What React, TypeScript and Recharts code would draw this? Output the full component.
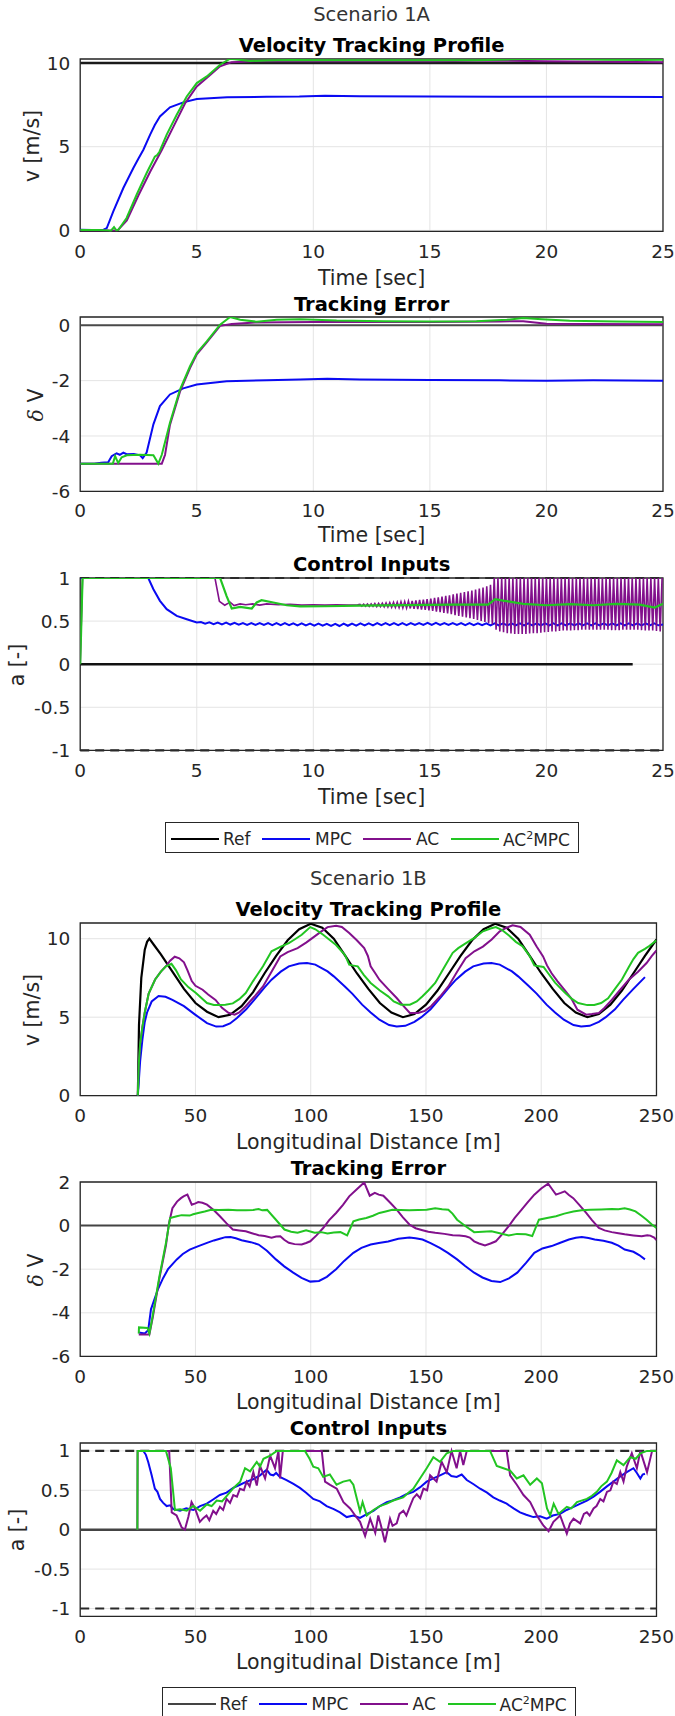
import React from "react";
import {
  LineChart,
  Line,
  XAxis,
  YAxis,
  CartesianGrid,
  ReferenceLine,
  ReferenceArea,
} from "recharts";

type Pt = [number, number];

const FONT = '"DejaVu Sans", sans-serif';
const INK = "#262626";
const BLUE = "#0a0af2";
const PURPLE = "#82108c";
const GREEN = "#22c522";

// ---------- Scenario 1A (time axis) ----------
const timeTicks = [0, 5, 10, 15, 20, 25];

const refVelA: Pt[] = [[0, 10], [25, 10]];
const mpcVelA: Pt[] = [
  [0, 0.04], [0.5, 0.03], [1.0, 0.04], [1.14, 0.14], [1.42, 1.13], [1.85, 2.53], [2.28, 3.73],
  [2.5, 4.3], [2.71, 4.82], [3.0, 5.72], [3.2, 6.3], [3.42, 6.81], [3.85, 7.35], [4.42, 7.65],
  [5.0, 7.85], [6.3, 7.95], [8, 7.98], [9.4, 8.0], [10.5, 8.05], [12, 8.02], [15, 8.0],
  [18, 7.99], [20, 7.98], [22, 7.99], [25, 7.97],
];
const acVelA: Pt[] = [
  [0, 0], [1.6, 0], [2.0, 0.6], [2.5, 2.1], [3.0, 3.5], [3.5, 4.8], [4.0, 6.2], [4.5, 7.6],
  [5.0, 8.6], [5.5, 9.2], [6.0, 9.8], [6.5, 10.05], [7.5, 10.1], [10, 10.1], [15, 10.1],
  [18, 10.15], [20, 10.1], [25, 10.05],
];
const acmpcVelA: Pt[] = [
  [0, 0.02], [0.8, 0.03], [1.2, 0.0], [1.3, -0.05], [1.45, 0.2], [1.55, 0.0], [1.64, 0.04],
  [1.99, 0.74], [2.42, 2.13], [2.85, 3.43], [3.2, 4.4], [3.3, 4.5], [3.4, 4.7], [3.71, 5.72],
  [4.14, 6.91], [4.57, 8.0], [5.0, 8.8], [5.43, 9.2], [6.0, 9.9], [6.43, 10.26], [6.8, 10.2],
  [7.3, 10.12], [8, 10.15], [9, 10.18], [11, 10.17], [13, 10.16], [15, 10.17], [17, 10.16],
  [18.5, 10.22], [19.5, 10.26], [21, 10.24], [22.5, 10.2], [24, 10.18], [25, 10.2],
];

const refErrA: Pt[] = [[0, 0], [25, 0]];
const mpcErrA: Pt[] = [
  [0, -5], [0.6, -5], [0.9, -4.97], [1.2, -4.95], [1.35, -4.73], [1.56, -4.63], [1.7, -4.68],
  [1.85, -4.6], [1.99, -4.66], [2.3, -4.65], [2.57, -4.7], [2.68, -4.8], [2.85, -4.6],
  [3.14, -3.58], [3.42, -2.92], [3.85, -2.5], [4.42, -2.28], [5.0, -2.14], [6.28, -2.02],
  [8, -1.99], [9.43, -1.96], [10.6, -1.93], [12, -1.96], [15, -1.98], [18, -1.99], [20, -2.0],
  [22, -1.99], [25, -2.0],
];
const acErrA: Pt[] = [
  [0, -5], [3.5, -5], [3.64, -4.68], [3.85, -3.6], [4.28, -2.4], [4.71, -1.55], [5.0, -1.05],
  [5.43, -0.62], [6.0, -0.02], [6.5, 0.05], [7.5, 0.1], [10, 0.12], [15, 0.12], [18, 0.14],
  [19, 0.15], [20, 0.06], [22, 0.05], [25, 0.04],
];
const acmpcErrA: Pt[] = [
  [0, -5], [1.4, -5], [1.5, -4.73], [1.63, -4.98], [1.78, -4.77], [2.0, -4.7], [2.57, -4.68],
  [3.14, -4.7], [3.35, -5.0], [3.5, -4.68], [3.85, -3.52], [4.28, -2.32], [4.71, -1.48],
  [5.0, -1.0], [5.43, -0.58], [6.0, 0.02], [6.43, 0.3], [6.86, 0.2], [7.57, 0.13], [8.43, 0.2],
  [9.43, 0.22], [11, 0.17], [13, 0.15], [15, 0.14], [17, 0.15], [18.3, 0.2], [19, 0.26],
  [19.8, 0.22], [21, 0.16], [23, 0.14], [25, 0.12],
];

const refCtrlA: Pt[] = [[0, 0], [23.7, 0]];
const mpcCtrlA: Pt[] = [
  [0, 1], [2.92, 1], [3.14, 0.87], [3.42, 0.735], [3.71, 0.638], [4.14, 0.56], [4.57, 0.522],
  [5.0, 0.483],
];
// MPC ripple after 5 s: [high, low] of each 0.36 s wiggle
const mpcRippleA: Pt[] = [
  [0.49, 0.47], [0.485, 0.465], [0.483, 0.462], [0.482, 0.46], [0.48, 0.458], [0.478, 0.456],
  [0.478, 0.455], [0.477, 0.455], [0.477, 0.454], [0.476, 0.453], [0.476, 0.452], [0.475, 0.451],
  [0.474, 0.45], [0.472, 0.448], [0.47, 0.446], [0.468, 0.444], [0.468, 0.443], [0.47, 0.446],
  [0.472, 0.448], [0.474, 0.45], [0.475, 0.451], [0.476, 0.452], [0.476, 0.452], [0.477, 0.453],
  [0.477, 0.454], [0.478, 0.455], [0.478, 0.456], [0.479, 0.456], [0.479, 0.456], [0.478, 0.455],
  [0.477, 0.455], [0.477, 0.454], [0.476, 0.453], [0.475, 0.452], [0.474, 0.451], [0.474, 0.45],
  [0.473, 0.449], [0.473, 0.449], [0.474, 0.45], [0.474, 0.45], [0.475, 0.451], [0.475, 0.451],
  [0.474, 0.45], [0.474, 0.45], [0.473, 0.449], [0.473, 0.449], [0.474, 0.45], [0.475, 0.451],
  [0.475, 0.451], [0.474, 0.45], [0.474, 0.45], [0.473, 0.449], [0.474, 0.45], [0.475, 0.451],
  [0.475, 0.451],
];
const acCtrlA: Pt[] = [
  [0, 0], [0.1, 1], [5.78, 1], [5.97, 0.73], [6.2, 0.684], [6.43, 0.72], [6.6, 0.68],
  [6.86, 0.7], [7.1, 0.69], [7.4, 0.7], [7.7, 0.685], [8.0, 0.7], [8.5, 0.69], [9, 0.695],
  [9.5, 0.685], [10, 0.69], [10.5, 0.685], [11, 0.69], [11.5, 0.685], [11.9, 0.69],
];
// AC chattering from 12 s: [peak, trough] of each 0.16 s cycle
const acChatterA: Pt[] = [
  [0.695, 0.675], [0.697, 0.673], [0.699, 0.671], [0.7, 0.67], [0.703, 0.668], [0.705, 0.667],
  [0.708, 0.665], [0.711, 0.663], [0.714, 0.66], [0.717, 0.658], [0.72, 0.656], [0.724, 0.653],
  [0.727, 0.651], [0.731, 0.647], [0.735, 0.643], [0.74, 0.638], [0.745, 0.634], [0.75, 0.629],
  [0.756, 0.623], [0.762, 0.618], [0.769, 0.611], [0.776, 0.603], [0.784, 0.596], [0.792, 0.588],
  [0.8, 0.58], [0.81, 0.57], [0.819, 0.561], [0.828, 0.552], [0.837, 0.543], [0.846, 0.533],
  [0.855, 0.524], [0.866, 0.513], [0.877, 0.502], [0.89, 0.49], [0.905, 0.475], [0.92, 0.46],
  [1, 0.4], [1, 0.38], [1, 0.37], [1, 0.36], [1, 0.355], [1, 0.35], [1, 0.35], [1, 0.35],
  [1, 0.35], [1, 0.355], [1, 0.36], [1, 0.36], [1, 0.365], [1, 0.37], [1, 0.375], [1, 0.38],
  [1, 0.38], [1, 0.385], [1, 0.39], [1, 0.39], [1, 0.39], [1, 0.395], [1, 0.395], [1, 0.4],
  [1, 0.4], [1, 0.4], [1, 0.4], [1, 0.4], [1, 0.4], [1, 0.4], [1, 0.4], [1, 0.395], [1, 0.395],
  [1, 0.395], [1, 0.4], [1, 0.4], [1, 0.4], [1, 0.4], [1, 0.4], [1, 0.395], [1, 0.39], [1, 0.39],
  [1, 0.39], [1, 0.385], [1, 0.38],
];
const acmpcCtrlA: Pt[] = [
  [0, 0], [0.1, 1], [6.0, 1], [6.28, 0.79], [6.5, 0.646], [6.86, 0.665], [7.36, 0.646],
  [7.57, 0.716], [7.78, 0.742], [8.28, 0.716], [8.86, 0.684], [9.43, 0.67], [10.5, 0.672],
  [12, 0.68], [14, 0.685], [16, 0.69], [17.5, 0.69], [17.8, 0.754], [18.2, 0.735], [19, 0.7],
  [20, 0.684], [21, 0.696], [22, 0.684], [23, 0.7], [24, 0.69], [24.65, 0.657], [25, 0.7],
];

// ---------- Scenario 1B (distance axis) ----------
const distTicks = [0, 50, 100, 150, 200, 250];

const refVelB: Pt[] = [
  [25, 0], [25.5, 4.5], [26.5, 7.5], [28, 9.3], [29, 9.8], [30, 10.0], [32, 9.6], [35, 9.0],
  [40, 7.9], [45, 6.8], [50, 5.9], [55, 5.35], [60, 5.0], [65, 5.15], [70, 5.7], [75, 6.6],
  [80, 7.8], [85, 8.9], [90, 9.9], [95, 10.6], [100, 10.95], [105, 10.7], [110, 10.0],
  [115, 8.9], [120, 7.8], [125, 6.8], [130, 5.9], [135, 5.3], [140, 5.0], [145, 5.2], [150, 5.8],
  [155, 6.7], [160, 7.8], [165, 8.9], [170, 9.9], [175, 10.6], [180, 10.95], [185, 10.7],
  [190, 10.0], [195, 8.9], [200, 7.8], [205, 6.8], [210, 5.9], [215, 5.3], [220, 5.0],
  [225, 5.2], [230, 5.8], [235, 6.7], [240, 7.8], [245, 8.9], [250, 9.95],
];
const mpcVelB: Pt[] = [
  [25, 0], [26, 2.2], [27, 3.6], [28, 4.7], [29, 5.3], [31, 6.0], [34, 6.35], [37, 6.3],
  [40, 6.1], [45, 5.7], [50, 5.15], [55, 4.62], [59, 4.4], [62, 4.42], [65, 4.6], [68, 4.95],
  [72, 5.5], [75.5, 6.1], [80, 6.9], [83, 7.39], [87, 7.9], [90.5, 8.24], [95, 8.42],
  [98.4, 8.45], [102, 8.35], [107.3, 7.92], [110, 7.6], [114.8, 6.96], [118, 6.5], [122.3, 5.8],
  [126, 5.3], [129.8, 4.84], [134, 4.5], [137.3, 4.41], [141, 4.45], [145, 4.7], [148, 5.0],
  [152, 5.5], [155.5, 6.1], [160, 6.9], [163, 7.39], [167, 7.9], [170.5, 8.24], [175, 8.42],
  [178.4, 8.45], [182, 8.35], [187.3, 7.92], [190, 7.6], [194.8, 6.96], [198, 6.5], [202.3, 5.8],
  [206, 5.3], [209.8, 4.84], [214, 4.5], [217.3, 4.41], [221, 4.45], [225, 4.7], [228, 5.0],
  [232, 5.5], [235.5, 6.1], [240, 6.8], [245, 7.55],
];
const acVelB: Pt[] = [
  [25, 0], [25.4, 2.0], [26, 3.3], [27, 4.4], [28, 5.3], [29.7, 6.5], [32.5, 7.4], [35, 7.9],
  [37.5, 8.3], [39, 8.6], [41, 8.85], [43, 8.75], [45, 8.5], [46.5, 8.0], [48.4, 7.3], [50, 7.0],
  [53.1, 6.75], [55.5, 6.45], [58.7, 6.1], [61.5, 5.6], [64.3, 5.28], [67, 5.16], [69, 5.3],
  [71.8, 5.7], [75.5, 6.3], [79.3, 6.96], [83, 7.9], [86.8, 8.87], [90, 9.15], [94.3, 9.4],
  [98, 9.75], [101.7, 10.15], [104.5, 10.45], [107.3, 10.74], [111, 10.83], [113.5, 10.75],
  [116.7, 10.36], [120, 9.9], [123.2, 9.4], [124.8, 8.9], [126, 8.24], [128, 7.8], [129.8, 7.39],
  [133.5, 6.8], [137.3, 6.22], [140, 5.75], [143, 5.27], [146.6, 5.27], [149.5, 5.4],
  [152.2, 5.7], [156, 6.3], [159.7, 6.96], [163.5, 7.9], [167.2, 8.76], [171, 9.2], [174.7, 9.5],
  [178.5, 9.95], [182, 10.47], [185, 10.7], [187.6, 10.85], [191, 10.75], [195, 10.25],
  [198, 9.5], [200.8, 8.87], [202.5, 8.3], [204.5, 7.8], [207, 7.3], [210, 6.75], [213, 6.2],
  [215.7, 5.48], [219.5, 5.16], [222, 5.2], [225, 5.27], [227.5, 5.6], [230.6, 6.1], [234, 6.7],
  [238, 7.39], [242, 7.9], [245.7, 8.45], [248, 8.9], [250, 9.25],
];
const acmpcVelB: Pt[] = [
  [25, 0], [25.4, 2.0], [26, 3.3], [27, 4.4], [28, 5.3], [29.7, 6.5], [32.5, 7.4], [35, 7.9],
  [37.2, 8.24], [39.6, 8.4], [41.5, 8.0], [43.7, 7.4], [47, 6.9], [50.2, 6.54], [55, 5.9],
  [58, 5.78], [60.6, 5.77], [63, 5.8], [66.2, 5.88], [69, 6.15], [71.8, 6.54], [75, 7.3],
  [79.3, 8.24], [83, 9.2], [87, 9.5], [90.5, 9.72], [93, 9.95], [96.1, 10.25], [99.8, 10.74],
  [102, 10.6], [105.4, 10.25], [108, 9.95], [111, 9.6], [114.8, 8.98], [116.7, 8.35], [118, 8.3],
  [120.4, 8.24], [123, 7.7], [126, 7.18], [130, 6.7], [133.6, 6.33], [136, 6.0], [139.2, 5.8],
  [143, 5.8], [146, 6.0], [148.5, 6.33], [151, 6.7], [154, 7.18], [158, 8.2], [161.6, 9.1],
  [164, 9.4], [167.2, 9.7], [171, 10.05], [174.7, 10.47], [178, 10.65], [180.3, 10.74],
  [183, 10.55], [186, 10.2], [189, 9.8], [192, 9.5], [195, 8.9], [197, 8.3], [199, 8.25],
  [201, 8.2], [203, 7.8], [206, 7.2], [210, 6.6], [213, 6.2], [216, 5.9], [220, 5.77],
  [223, 5.78], [226, 5.9], [229, 6.2], [232, 6.8], [235, 7.4], [238, 8.2], [240, 8.7],
  [242, 9.1], [245, 9.35], [247, 9.55], [250, 9.9],
];

const refErrB: Pt[] = [[0, 0], [250, 0]];
const mpcErrB: Pt[] = [
  [25.4, -4.9], [28, -4.95], [29.5, -4.8], [30.7, -3.84], [33.7, -2.92], [36, -2.4], [38.1, -2.0],
  [41.9, -1.55], [44.5, -1.3], [47.5, -1.1], [51, -0.95], [55, -0.79], [58, -0.68], [60.6, -0.6],
  [63, -0.53], [65.2, -0.52], [67.5, -0.58], [70, -0.67], [74, -0.76], [77.4, -0.87],
  [81, -1.15], [84.9, -1.55], [88.5, -1.87], [92.4, -2.16], [96, -2.4], [99.8, -2.57],
  [103.6, -2.54], [107, -2.35], [111, -2.0], [114.5, -1.62], [118.5, -1.25], [122, -1.02],
  [126, -0.87], [129.5, -0.8], [133.6, -0.73], [138, -0.6], [142.8, -0.55], [145.5, -0.58],
  [148.5, -0.64], [152, -0.8], [156, -1.02], [159.5, -1.25], [163.5, -1.55], [167, -1.85],
  [170.9, -2.16], [174.5, -2.38], [178.4, -2.54], [182.2, -2.59], [186, -2.42], [189.6, -2.16],
  [193.5, -1.7], [197, -1.25], [200.5, -1.05], [204.5, -0.94], [208, -0.8], [212, -0.64],
  [215, -0.56], [217.6, -0.52], [220.5, -0.57], [223.2, -0.64], [227, -0.7], [230.6, -0.79],
  [233.5, -0.92], [236.2, -1.1], [240, -1.2], [242.5, -1.35], [245, -1.55],
];
const acErrB: Pt[] = [
  [25.4, -5], [30, -5], [31.5, -4.2], [34.4, -2.4], [37.2, -0.9], [38.5, 0.1], [40, 0.8],
  [42, 1.1], [43.7, 1.26], [45, 1.35], [46.5, 1.42], [48.4, 0.96], [50, 1.02], [51.2, 1.08],
  [53, 1.05], [55, 0.96], [58, 0.7], [60.6, 0.43], [63.5, 0.1], [66.2, -0.18], [69, -0.22],
  [71.8, -0.26], [74.5, -0.35], [77.4, -0.44], [80, -0.48], [83, -0.56], [85, -0.5],
  [86.8, -0.49], [88.5, -0.65], [90.5, -0.79], [93, -0.85], [96.1, -0.87], [98, -0.8],
  [99.8, -0.72], [102.5, -0.45], [105.4, -0.11], [108, 0.25], [111, 0.58], [114, 0.95],
  [116.7, 1.34], [120, 1.67], [123.2, 1.98], [125.6, 1.37], [127.8, 1.5], [129.5, 1.42],
  [131.5, 1.37], [134.5, 1.05], [137.3, 0.73], [140, 0.38], [142.8, 0.05], [145.5, -0.12],
  [148.5, -0.21], [151, -0.28], [154, -0.33], [158, -0.38], [161.6, -0.44], [164.5, -0.45],
  [167.2, -0.49], [169, -0.55], [170.9, -0.72], [173, -0.82], [175.6, -0.91], [178, -0.82],
  [180.3, -0.72], [183, -0.4], [185.9, -0.03], [188.5, 0.35], [191.5, 0.73], [194, 1.05],
  [197, 1.42], [200, 1.7], [203, 1.92], [204.5, 1.7], [206.4, 1.42], [208.5, 1.5], [210.2, 1.57],
  [212, 1.4], [213.9, 1.26], [216.5, 0.95], [219.5, 0.58], [222, 0.25], [225, -0.11],
  [227.5, -0.22], [230.6, -0.3], [233.5, -0.35], [236.2, -0.4], [240, -0.45], [243.6, -0.49],
  [246, -0.44], [247.3, -0.46], [249, -0.55], [250, -0.67],
];
const acmpcErrB: Pt[] = [
  [25.4, -4.95], [25.5, -4.67], [29.2, -4.7], [30, -4.95], [31, -4.4], [34.4, -2.31],
  [37.2, -0.79], [39, 0.35], [41.9, 0.43], [44, 0.48], [47.5, 0.46], [49, 0.52], [51.2, 0.58],
  [54, 0.65], [56.8, 0.73], [60, 0.72], [64.3, 0.73], [68, 0.7], [71.8, 0.7], [75, 0.72],
  [77.4, 0.76], [79, 0.7], [81.1, 0.72], [84.9, 0.27], [88.6, -0.18], [91.5, -0.28],
  [94.3, -0.33], [98, -0.21], [101.7, -0.33], [104.5, -0.3], [107.3, -0.36], [110, -0.32],
  [112.9, -0.3], [115.8, -0.45], [118.5, 0.2], [121, 0.28], [124.1, 0.35], [127, 0.45],
  [129.8, 0.58], [132.5, 0.65], [135.4, 0.73], [139, 0.72], [142.8, 0.7], [146.5, 0.72],
  [150.3, 0.73], [154, 0.8], [157, 0.75], [159.7, 0.73], [161.5, 0.55], [163.5, 0.27],
  [167.2, -0.03], [170.9, -0.3], [174.5, -0.28], [178.4, -0.26], [182, -0.35], [185.9, -0.45],
  [189.5, -0.38], [193.3, -0.4], [196.1, -0.48], [199, 0.27], [202.5, 0.35], [206.4, 0.43],
  [210, 0.55], [213.9, 0.65], [217.5, 0.7], [221.3, 0.73], [226, 0.74], [230.6, 0.76],
  [233.5, 0.75], [236.2, 0.79], [238.5, 0.74], [240.9, 0.65], [243.5, 0.45], [245.7, 0.27],
  [248, 0.05], [250, -0.11],
];

const refCtrlB: Pt[] = [[0, 0], [250, 0]];
const mpcCtrlB: Pt[] = [
  [24.8, 1], [27.4, 1], [28.5, 0.95], [29.5, 0.86], [31, 0.69], [32.4, 0.52], [33.5, 0.48],
  [34.6, 0.39], [36, 0.34], [37.5, 0.3], [39, 0.31], [40.4, 0.26], [43.3, 0.24], [46, 0.27],
  [49.1, 0.25], [52, 0.3], [54.9, 0.33], [57.5, 0.38], [60.6, 0.44], [63.5, 0.47], [66.4, 0.53],
  [69.3, 0.57], [72.2, 0.61], [75, 0.64], [78, 0.69], [80.9, 0.76], [82.5, 0.7], [83.8, 0.69],
  [85, 0.72], [86.6, 0.67], [89.5, 0.63], [92.5, 0.58], [95.3, 0.53], [98, 0.47], [101.1, 0.39],
  [104, 0.36], [106.9, 0.3], [110, 0.26], [112.7, 0.22], [115.6, 0.16], [118.5, 0.18],
  [121.4, 0.15], [124.5, 0.2], [127.2, 0.24], [130, 0.3], [133, 0.35], [135.5, 0.37],
  [138.8, 0.41], [141.5, 0.45], [144.5, 0.48], [147.5, 0.54], [150.3, 0.61], [153.2, 0.65],
  [156.1, 0.69], [159, 0.73], [161, 0.68], [163.3, 0.67], [165.5, 0.7], [167.7, 0.63],
  [170.5, 0.58], [173.5, 0.52], [176.5, 0.47], [179.2, 0.41], [182, 0.37], [185, 0.33],
  [188, 0.27], [190.8, 0.22], [193.5, 0.19], [196.6, 0.16], [199.5, 0.17], [202.4, 0.14],
  [205, 0.18], [208.2, 0.2], [211, 0.25], [214, 0.29], [217, 0.33], [219.8, 0.37], [222.7, 0.42],
  [225.5, 0.48], [228.5, 0.55], [231.3, 0.61], [234, 0.67], [237.1, 0.73], [240, 0.78],
  [241.5, 0.72], [243, 0.65], [244, 0.7], [245, 0.71],
];
const acCtrlB: Pt[] = [
  [24.8, 0], [24.9, 1], [38.6, 1], [39.7, 0.22], [41.8, 0.18], [43, 0.1], [44, 0.03], [45.4, 0.0],
  [46.9, 0.16], [48.3, 0.35], [49.8, 0.27], [51.9, 0.1], [53.5, 0.15], [54.8, 0.18], [56, 0.12],
  [57.7, 0.24], [59, 0.2], [60.6, 0.29], [62, 0.25], [63.5, 0.39], [65, 0.34], [66.4, 0.44],
  [68, 0.42], [69.3, 0.52], [71, 0.5], [72.2, 0.61], [73.5, 0.55], [75.1, 0.73], [76.6, 0.56],
  [78, 0.81], [80.2, 0.65], [82.4, 0.94], [84.5, 0.78], [86, 1.0], [86.7, 0.65], [87.9, 1.0],
  [104.8, 1.0], [106.2, 0.61], [108.4, 0.57], [111.3, 0.52], [112.5, 0.45], [114.2, 0.35],
  [117.1, 0.27], [119.3, 0.18], [121.4, 0.1], [123.6, -0.08], [125.8, 0.14], [128, -0.04],
  [129.3, 0.18], [130.5, 0.05], [132.2, -0.16], [134.4, 0.14], [135.5, 0.05], [137.3, 0.08],
  [138.5, 0.2], [140.2, 0.24], [141.5, 0.18], [143.1, 0.3], [144.5, 0.4], [146, 0.45],
  [147.5, 0.4], [148.9, 0.52], [150.5, 0.5], [151.8, 0.69], [154.6, 0.61], [156.8, 0.86],
  [159, 0.73], [161.1, 1.0], [163.3, 0.78], [164.8, 1.0], [166.2, 0.82], [167.7, 1.0],
  [185, 1.0], [186.5, 0.69], [189.4, 0.57], [192.3, 0.44], [195.2, 0.35], [198.1, 0.18],
  [201, 0.05], [203.2, -0.02], [205.3, 0.1], [208.2, 0.18], [211.1, -0.05], [212.5, 0.08],
  [214, 0.14], [216.9, 0.08], [218.5, 0.2], [219.8, 0.22], [221, 0.18], [222.7, 0.27],
  [224, 0.3], [225.6, 0.39], [227, 0.36], [228.5, 0.48], [230, 0.5], [231.3, 0.61],
  [232.8, 0.58], [234.3, 0.73], [235.7, 0.61], [237.1, 0.8], [239.3, 0.97], [241.5, 0.78],
  [243, 1.0], [245.9, 0.73], [248.1, 1.0], [250, 1.0],
];
const acmpcCtrlB: Pt[] = [
  [24.8, 0], [24.9, 1], [37.2, 1], [39.3, 0.78], [41.1, 0.25], [43.3, 0.26], [46.2, 0.24],
  [49.1, 0.3], [52, 0.24], [54.9, 0.32], [57, 0.3], [59.2, 0.37], [61.5, 0.36], [63.6, 0.43],
  [66.5, 0.53], [69.4, 0.61], [71.5, 0.78], [73.7, 0.74], [76.6, 0.86], [78, 0.8], [79.5, 0.9],
  [82.4, 0.94], [85.3, 1.0], [97.5, 1.0], [99.5, 0.9], [101.1, 0.8], [103.3, 0.78],
  [105.4, 0.67], [108.3, 0.7], [111.2, 0.57], [114.1, 0.61], [117, 0.63], [118.5, 0.57],
  [121.4, 0.23], [122.5, 0.35], [124.3, 0.18], [127.2, 0.25], [130, 0.3], [133, 0.33],
  [135.8, 0.37], [140.1, 0.41], [142, 0.46], [144.5, 0.52], [147.4, 0.65], [150.3, 0.78],
  [153.2, 0.92], [156.1, 0.86], [159, 0.97], [161.8, 1.0], [177.8, 1.0], [180.7, 0.81],
  [183.6, 0.78], [186.5, 0.75], [189.4, 0.65], [192.3, 0.69], [195.2, 0.57], [198.1, 0.65],
  [200.3, 0.59], [202.5, 0.27], [203.9, 0.18], [205.4, 0.33], [207.5, 0.2], [211.1, 0.29],
  [213, 0.27], [215.5, 0.35], [219.8, 0.39], [222, 0.43], [224.1, 0.48], [226, 0.55],
  [228.5, 0.61], [230.5, 0.72], [232.8, 0.88], [235.7, 0.82], [238.6, 0.92], [241, 0.9],
  [243, 0.97], [245.9, 1.0], [250, 1.0],
];

// ---------- helpers ----------
const rows = (pts: Pt[]) => pts.map(([x, y]) => ({ x, y }));

// wiggle pairs -> alternating samples on the logging grid
const wiggle = (pairs: Pt[], t0: number, period: number) =>
  pairs.flatMap(([hi, lo], i) => [
    [t0 + i * period, hi] as Pt,
    [t0 + i * period + period / 2, lo] as Pt,
  ]);

const mpcCtrlAFull: Pt[] = [...mpcCtrlA, ...wiggle(mpcRippleA, 5.18, 0.36), [25, 0.462]];
const acCtrlAFull: Pt[] = [...acCtrlA, ...wiggle(acChatterA, 12, 0.16), [24.96, 1]];

type Series = { name: string; pts: Pt[]; color: string; width?: number };

type PanelProps = {
  top: number;
  height: number;
  right: number;
  xDomain: [number, number];
  xTicks: number[];
  yDomain: [number, number];
  yTicks: number[];
  series: Series[];
  bounds?: boolean;
};

const tickStyle = { fill: INK, fontSize: 18.5, fontFamily: FONT };

function Panel({ top, height, right, xDomain, xTicks, yDomain, yTicks, series, bounds }: PanelProps) {
  const mt = 14;
  return (
    <div style={{ position: "absolute", left: 0, top: top - mt }}>
      <LineChart
        width={675}
        height={height + mt + 40}
        margin={{ top: mt, right: 675 - right, bottom: 0, left: 20.2 }}
      >
        <CartesianGrid stroke="#e4e4e4" strokeWidth={1} />
        <XAxis
          dataKey="x"
          type="number"
          domain={xDomain}
          ticks={xTicks}
          interval={0}
          allowDataOverflow
          height={40}
          tickSize={0}
          tickMargin={13}
          tickLine={false}
          axisLine={false}
          tick={tickStyle}
        />
        <YAxis
          type="number"
          domain={yDomain}
          ticks={yTicks}
          interval={0}
          allowDataOverflow
          width={60}
          tickSize={0}
          tickMargin={10}
          tickLine={false}
          axisLine={false}
          tick={tickStyle}
        />
        {bounds && (
          <ReferenceLine y={1} stroke="#2a2a2a" strokeWidth={2.2} strokeDasharray="9 6" />
        )}
        {bounds && (
          <ReferenceLine y={-1} stroke="#2a2a2a" strokeWidth={2.2} strokeDasharray="9 6" />
        )}
        {series.map((s) => (
          <Line
            key={s.name}
            name={s.name}
            data={rows(s.pts)}
            dataKey="y"
            type="linear"
            stroke={s.color}
            strokeWidth={s.width ?? 2}
            dot={false}
            activeDot={false}
            isAnimationActive={false}
          />
        ))}
        <ReferenceArea
          x1={xDomain[0]}
          x2={xDomain[1]}
          y1={yDomain[0]}
          y2={yDomain[1]}
          fill="none"
          fillOpacity={0}
          stroke={INK}
          strokeWidth={1.3}
        />
      </LineChart>
    </div>
  );
}

function Txt({
  x,
  y,
  size,
  bold,
  color = INK,
  rotate,
  children,
}: {
  x: number;
  y: number;
  size: number;
  bold?: boolean;
  color?: string;
  rotate?: boolean;
  children: React.ReactNode;
}) {
  return (
    <div
      style={{
        position: "absolute",
        left: x,
        top: y,
        transform: `translate(-50%, -50%)${rotate ? " rotate(-90deg)" : ""}`,
        fontSize: size,
        fontWeight: bold ? 700 : 400,
        color,
        whiteSpace: "nowrap",
        lineHeight: 1,
        fontFamily: FONT,
      }}
    >
      {children}
    </div>
  );
}

const DeltaV = () => (
  <>
    <span style={{ fontStyle: "italic", fontFamily: '"DejaVu Serif", serif' }}>δ</span> V
  </>
);

const legendItems = [
  { label: "Ref", lx: 5, tx: 57 },
  { label: "MPC", lx: 96, tx: 149 },
  { label: "AC", lx: 197, tx: 250 },
  { label: "AC2MPC", lx: 285, tx: 337 },
];

function LegendBox({ left, top, refColor }: { left: number; top: number; refColor: string }) {
  const colors = [refColor, BLUE, PURPLE, GREEN];
  return (
    <div
      style={{
        position: "absolute",
        left,
        top,
        width: 414,
        height: 31,
        border: `1px solid ${INK}`,
        boxSizing: "border-box",
        background: "#fff",
        fontFamily: FONT,
      }}
    >
      {legendItems.map((it, i) => (
        <React.Fragment key={it.label}>
          <svg
            width={48}
            height={4}
            style={{ position: "absolute", left: it.lx, top: 13.5 }}
          >
            <line x1={0} y1={2} x2={48} y2={2} stroke={colors[i]} strokeWidth={2.2} />
          </svg>
          <div
            style={{
              position: "absolute",
              left: it.tx,
              top: 15.5,
              transform: "translateY(-50%)",
              fontSize: 17,
              color: INK,
              lineHeight: 1,
              whiteSpace: "nowrap",
            }}
          >
            {it.label === "AC2MPC" ? (
              <>
                AC<sup style={{ fontSize: 11, verticalAlign: 7 }}>2</sup>MPC
              </>
            ) : (
              it.label
            )}
          </div>
        </React.Fragment>
      ))}
    </div>
  );
}

export default function App() {
  const RA = 663;
  const RB = 656.5;
  const cA = (80.2 + RA) / 2;
  const cB = (80.2 + RB) / 2;
  return (
    <div
      style={{
        position: "absolute",
        left: 0,
        top: 0,
        width: 675,
        height: 1716,
        overflow: "hidden",
        background: "#fff",
        fontFamily: FONT,
      }}
    >
      <Txt x={cA} y={15} size={19.5} color="#333">Scenario 1A</Txt>

      <Txt x={cA} y={46} size={19.5} bold color="#000">Velocity Tracking Profile</Txt>
      <Panel
        top={59.3}
        height={172.4}
        right={RA}
        xDomain={[0, 25]}
        xTicks={timeTicks}
        yDomain={[-0.06, 10.24]}
        yTicks={[0, 5, 10]}
        series={[
          { name: "Ref", pts: refVelA, color: "#1a1a1a", width: 2.6 },
          { name: "MPC", pts: mpcVelA, color: BLUE },
          { name: "AC", pts: acVelA, color: PURPLE },
          { name: "AC2MPC", pts: acmpcVelA, color: GREEN },
        ]}
      />
      <Txt x={32} y={145.5} size={20.5} rotate>v [m/s]</Txt>
      <Txt x={cA} y={278} size={20.5}>Time [sec]</Txt>

      <Txt x={cA} y={305} size={19.5} bold color="#000">Tracking Error</Txt>
      <Panel
        top={317.4}
        height={174.3}
        right={RA}
        xDomain={[0, 25]}
        xTicks={timeTicks}
        yDomain={[-6, 0.3]}
        yTicks={[-6, -4, -2, 0]}
        series={[
          { name: "Ref", pts: refErrA, color: "#4a4a4a" },
          { name: "MPC", pts: mpcErrA, color: BLUE },
          { name: "AC", pts: acErrA, color: PURPLE },
          { name: "AC2MPC", pts: acmpcErrA, color: GREEN },
        ]}
      />
      <Txt x={36} y={405} size={20.5} rotate><DeltaV /></Txt>
      <Txt x={cA} y={535} size={20.5}>Time [sec]</Txt>

      <Txt x={cA} y={565} size={19.5} bold color="#000">Control Inputs</Txt>
      <Panel
        top={578.3}
        height={172.4}
        right={RA}
        xDomain={[0, 25]}
        xTicks={timeTicks}
        yDomain={[-1, 1]}
        yTicks={[-1, -0.5, 0, 0.5, 1]}
        bounds
        series={[
          { name: "Ref", pts: refCtrlA, color: "#111", width: 2.6 },
          { name: "MPC", pts: mpcCtrlAFull, color: BLUE },
          { name: "AC", pts: acCtrlAFull, color: PURPLE, width: 1.6 },
          { name: "AC2MPC", pts: acmpcCtrlA, color: GREEN, width: 2.2 },
        ]}
      />
      <Txt x={17} y={664.5} size={20.5} rotate>a [-]</Txt>
      <Txt x={cA} y={797} size={20.5}>Time [sec]</Txt>

      <LegendBox left={165} top={822} refColor="#000" />

      <Txt x={cB} y={879} size={19.5} color="#333">Scenario 1B</Txt>

      <Txt x={cB} y={910} size={19.5} bold color="#000">Velocity Tracking Profile</Txt>
      <Panel
        top={923.3}
        height={172.7}
        right={RB}
        xDomain={[0, 250]}
        xTicks={distTicks}
        yDomain={[0, 11]}
        yTicks={[0, 5, 10]}
        series={[
          { name: "Ref", pts: refVelB, color: "#000", width: 2.2 },
          { name: "MPC", pts: mpcVelB, color: BLUE },
          { name: "AC", pts: acVelB, color: PURPLE },
          { name: "AC2MPC", pts: acmpcVelB, color: GREEN },
        ]}
      />
      <Txt x={32} y={1009.6} size={20.5} rotate>v [m/s]</Txt>
      <Txt x={cB} y={1142} size={20.5}>Longitudinal Distance [m]</Txt>

      <Txt x={cB} y={1169} size={19.5} bold color="#000">Tracking Error</Txt>
      <Panel
        top={1182.3}
        height={174.4}
        right={RB}
        xDomain={[0, 250]}
        xTicks={distTicks}
        yDomain={[-6, 2]}
        yTicks={[-6, -4, -2, 0, 2]}
        series={[
          { name: "Ref", pts: refErrB, color: "#444" },
          { name: "MPC", pts: mpcErrB, color: BLUE },
          { name: "AC", pts: acErrB, color: PURPLE },
          { name: "AC2MPC", pts: acmpcErrB, color: GREEN },
        ]}
      />
      <Txt x={36} y={1269.5} size={20.5} rotate><DeltaV /></Txt>
      <Txt x={cB} y={1402} size={20.5}>Longitudinal Distance [m]</Txt>

      <Txt x={cB} y={1429} size={19.5} bold color="#000">Control Inputs</Txt>
      <Panel
        top={1442.8}
        height={173.4}
        right={RB}
        xDomain={[0, 250]}
        xTicks={distTicks}
        yDomain={[-1.1, 1.1]}
        yTicks={[-1, -0.5, 0, 0.5, 1]}
        bounds
        series={[
          { name: "Ref", pts: refCtrlB, color: "#444", width: 2.4 },
          { name: "MPC", pts: mpcCtrlB, color: BLUE },
          { name: "AC", pts: acCtrlB, color: PURPLE },
          { name: "AC2MPC", pts: acmpcCtrlB, color: GREEN },
        ]}
      />
      <Txt x={17} y={1529.5} size={20.5} rotate>a [-]</Txt>
      <Txt x={cB} y={1662} size={20.5}>Longitudinal Distance [m]</Txt>

      <LegendBox left={161.6} top={1687} refColor="#444" />
    </div>
  );
}
